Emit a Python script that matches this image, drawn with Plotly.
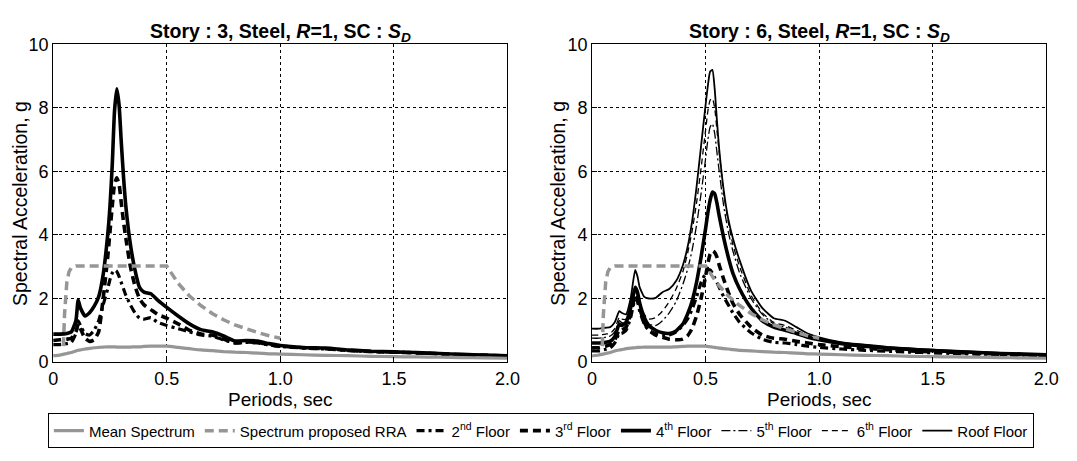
import plotly.graph_objects as go

# ---------------- data ----------------
# Story 3 (left panel)
T_LEFT = [0, 0.03, 0.06, 0.08, 0.1, 0.11, 0.12, 0.14, 0.16, 0.18, 0.2, 0.22, 0.24, 0.25, 0.26,
          0.27, 0.28, 0.29, 0.3, 0.31, 0.32, 0.34, 0.36, 0.38, 0.4, 0.43, 0.46, 0.5, 0.55, 0.6,
          0.65, 0.7, 0.75, 0.8, 0.85, 0.9, 0.95, 1.0, 1.1, 1.2, 1.3, 1.4, 1.5, 1.6, 1.7, 1.8, 1.9, 2.0]
S3_MEAN = [0.2, 0.22, 0.27, 0.3, 0.35, 0.37, 0.38, 0.41, 0.43, 0.45, 0.46, 0.47, 0.48, 0.48, 0.48,
           0.48, 0.47, 0.47, 0.47, 0.47, 0.47, 0.47, 0.48, 0.48, 0.49, 0.5, 0.5, 0.5, 0.46, 0.42,
           0.38, 0.36, 0.33, 0.31, 0.3, 0.28, 0.26, 0.25, 0.23, 0.21, 0.2, 0.18, 0.17, 0.16, 0.15, 0.14, 0.13, 0.12]
S3_2ND = [0.55, 0.55, 0.58, 0.62, 0.9, 1.3, 1.15, 0.9, 0.85, 1.0, 1.3, 1.8, 2.3, 2.6, 2.8,
          2.9, 2.85, 2.7, 2.5, 2.3, 2.1, 1.8, 1.55, 1.38, 1.35, 1.4, 1.25, 1.15, 1.05, 0.95,
          0.85, 0.82, 0.7, 0.6, 0.62, 0.6, 0.54, 0.49, 0.44, 0.41, 0.36, 0.33, 0.31, 0.29, 0.26, 0.23, 0.21, 0.19]
S3_3RD = [0.68, 0.7, 0.72, 0.75, 0.95, 1.2, 1.05, 0.75, 0.65, 0.7, 0.95, 2.0, 3.3, 4.1, 4.9,
          5.6, 5.8, 5.6, 5.0, 4.4, 3.9, 3.0, 2.4, 2.0, 1.8, 1.65, 1.5, 1.38, 1.2, 1.0,
          0.88, 0.85, 0.72, 0.6, 0.63, 0.62, 0.55, 0.5, 0.45, 0.42, 0.37, 0.33, 0.31, 0.29, 0.26, 0.23, 0.21, 0.19]
S3_4TH = [0.88, 0.88, 0.9, 0.95, 1.3, 1.95, 1.7, 1.45, 1.55, 1.75, 2.05, 2.75, 4.0, 4.9, 6.2,
          7.9, 8.6, 8.1, 6.9, 5.8, 4.9, 3.7, 2.9, 2.35, 2.2, 2.15, 1.95, 1.72, 1.45, 1.2,
          1.02, 0.95, 0.82, 0.66, 0.68, 0.66, 0.58, 0.52, 0.46, 0.44, 0.38, 0.34, 0.32, 0.3, 0.27, 0.24, 0.22, 0.2]

# Story 6 (right panel)
T_RIGHT = [0, 0.03, 0.06, 0.08, 0.1, 0.12, 0.13, 0.15, 0.17, 0.19, 0.2, 0.21, 0.23, 0.25, 0.28,
           0.31, 0.34, 0.37, 0.4, 0.42, 0.44, 0.46, 0.48, 0.5, 0.51, 0.52, 0.53, 0.54, 0.55, 0.56,
           0.58, 0.6, 0.62, 0.65, 0.7, 0.75, 0.8, 0.85, 0.9, 0.95, 1.0, 1.1, 1.2, 1.3, 1.4, 1.5,
           1.6, 1.7, 1.8, 1.9, 2.0]
S6_MEAN = [0.19, 0.22, 0.27, 0.3, 0.35, 0.38, 0.39, 0.42, 0.44, 0.45, 0.46, 0.46, 0.47, 0.47, 0.47,
           0.47, 0.47, 0.48, 0.49, 0.5, 0.5, 0.5, 0.5, 0.5, 0.49, 0.48, 0.47, 0.46, 0.45, 0.44,
           0.42, 0.41, 0.39, 0.37, 0.35, 0.33, 0.31, 0.3, 0.28, 0.26, 0.25, 0.23, 0.21, 0.2, 0.18, 0.17,
           0.16, 0.15, 0.14, 0.13, 0.12]
S6_2ND = [0.35, 0.35, 0.4, 0.45, 0.6, 0.9, 0.9, 1.0, 1.4, 2.0, 1.9, 1.6, 1.2, 1.0, 0.9,
          0.85, 0.85, 0.95, 1.15, 1.35, 1.65, 2.05, 2.5, 2.8, 2.9, 2.9, 2.8, 2.65, 2.5, 2.35,
          2.05, 1.8, 1.55, 1.25, 0.92, 0.72, 0.62, 0.6, 0.55, 0.5, 0.46, 0.41, 0.37, 0.34, 0.31, 0.29,
          0.27, 0.25, 0.23, 0.21, 0.2]
S6_3RD = [0.45, 0.45, 0.5, 0.55, 0.7, 1.0, 1.0, 1.1, 1.5, 2.1, 2.0, 1.7, 1.25, 1.0, 0.85,
          0.78, 0.72, 0.7, 0.72, 0.82, 1.05, 1.45, 2.0, 2.7, 3.1, 3.4, 3.5, 3.45, 3.3, 3.05,
          2.6, 2.2, 1.85, 1.5, 1.1, 0.85, 0.75, 0.72, 0.65, 0.6, 0.55, 0.48, 0.43, 0.39, 0.35, 0.32,
          0.3, 0.27, 0.25, 0.23, 0.21]
S6_4TH = [0.6, 0.6, 0.62, 0.65, 0.8, 1.2, 1.15, 1.25, 1.7, 2.35, 2.2, 1.85, 1.4, 1.15, 1.0,
          0.92, 0.9, 0.98, 1.2, 1.5, 1.9, 2.5, 3.3, 4.2, 4.7, 5.1, 5.35, 5.3, 5.0, 4.6,
          3.9, 3.3, 2.8, 2.3, 1.7, 1.3, 1.1, 1.0, 0.9, 0.78, 0.7, 0.58, 0.5, 0.44, 0.4, 0.36,
          0.33, 0.3, 0.27, 0.25, 0.23]
S6_5TH = [0.75, 0.75, 0.78, 0.82, 0.95, 1.3, 1.25, 1.2, 1.55, 2.2, 2.1, 1.8, 1.4, 1.2, 1.15,
          1.3, 1.55, 1.9, 2.45, 2.9, 3.5, 4.3, 5.3, 6.4, 7.0, 7.4, 7.5, 7.2, 6.6, 6.0,
          4.9, 4.1, 3.5, 2.8, 2.0, 1.5, 1.2, 1.1, 0.95, 0.82, 0.72, 0.6, 0.52, 0.46, 0.41, 0.37,
          0.34, 0.31, 0.28, 0.25, 0.23]
S6_6TH = [0.85, 0.85, 0.88, 0.9, 1.05, 1.4, 1.35, 1.35, 1.7, 2.3, 2.2, 1.9, 1.5, 1.35, 1.4,
          1.6, 1.9, 2.3, 2.85, 3.4, 4.1, 5.0, 6.1, 7.3, 7.9, 8.25, 8.3, 8.0, 7.3, 6.6,
          5.3, 4.4, 3.7, 3.0, 2.1, 1.55, 1.25, 1.15, 1.0, 0.85, 0.74, 0.6, 0.53, 0.47, 0.42, 0.38,
          0.34, 0.31, 0.28, 0.26, 0.24]
S6_ROOF = [1.05, 1.05, 1.08, 1.1, 1.25, 1.6, 1.55, 1.5, 2.0, 2.9, 2.7, 2.35, 2.05, 2.0, 2.02,
           2.2, 2.3, 2.55, 3.05, 3.6, 4.4, 5.5, 6.8, 8.1, 8.7, 9.15, 9.2, 8.6, 7.6, 6.7,
           5.4, 4.5, 3.9, 3.2, 2.25, 1.7, 1.38, 1.3, 1.1, 0.9, 0.78, 0.62, 0.55, 0.48, 0.43, 0.39,
           0.35, 0.32, 0.29, 0.26, 0.24]

# Proposed RRA spectrum (both panels)
T_RRA = [0.045, 0.05, 0.06, 0.07, 0.08, 0.09, 0.1, 0.5, 0.55, 0.6, 0.65, 0.7, 0.75, 0.8, 0.85, 0.9, 0.95, 1.0]
SA_RRA = [0.5, 1.5, 2.5, 2.85, 2.97, 3.0, 3.02, 3.02, 2.48, 2.08, 1.78, 1.53, 1.33, 1.17, 1.04, 0.93, 0.83, 0.75]

NAMES = ["Mean Spectrum", "Spectrum proposed RRA", "2<sup>nd</sup> Floor", "3<sup>rd</sup> Floor",
         "4<sup>th</sup> Floor", "5<sup>th</sup> Floor", "6<sup>th</sup> Floor", "Roof Floor"]
TITLES = ["Story : 3, Steel, <i>R</i>=1, SC : <i>S<sub>D</sub></i>",
          "Story : 6, Steel, <i>R</i>=1, SC : <i>S<sub>D</sub></i>"]
X_LABEL = "Periods, sec"
Y_LABEL = "Spectral Acceleration, g"
X_TICKS = [0, 0.5, 1.0, 1.5, 2.0]
X_TICK_TEXT = ["0", "0.5", "1.0", "1.5", "2.0"]
Y_TICKS = [0, 2, 4, 6, 8, 10]

# ---------------- styles ----------------
GRAY = "rgb(150,150,150)"
STYLE = {
    0: dict(color=GRAY, width=3.2, dash="solid"),
    1: dict(color=GRAY, width=3.5, dash="9px,5px"),
    2: dict(color="black", width=3.2, dash="8px,4px,3px,4px"),
    3: dict(color="black", width=3.6, dash="8px,5px"),
    4: dict(color="black", width=3.6, dash="solid"),
    5: dict(color="black", width=1.3, dash="9px,3px,2px,3px"),
    6: dict(color="black", width=1.3, dash="6px,4px"),
    7: dict(color="black", width=1.8, dash="solid"),
}

fig = go.Figure()

def add(x, y, idx, axis, show, smooth=True):
    fig.add_trace(go.Scatter(
        x=x, y=y, mode="lines", name=NAMES[idx], line=STYLE[idx],
        line_shape="spline" if smooth else "linear",
        xaxis="x" if axis == 1 else "x2", yaxis="y" if axis == 1 else "y2",
        showlegend=show, legendrank=idx + 1, hoverinfo="skip"))
    if smooth:
        fig.data[-1].line.smoothing = 0.5

# left panel (floors first, gray spectra on top)
add(T_LEFT, S3_2ND, 2, 1, False)
add(T_LEFT, S3_3RD, 3, 1, False)
add(T_LEFT, S3_4TH, 4, 1, False)
add(T_LEFT, S3_MEAN, 0, 1, False)
add(T_RRA, SA_RRA, 1, 1, False, smooth=False)

# right panel
add(T_RIGHT, S6_2ND, 2, 2, True)
add(T_RIGHT, S6_3RD, 3, 2, True)
add(T_RIGHT, S6_4TH, 4, 2, True)
add(T_RIGHT, S6_5TH, 5, 2, True)
add(T_RIGHT, S6_6TH, 6, 2, True)
add(T_RIGHT, S6_ROOF, 7, 2, True)
add(T_RIGHT, S6_MEAN, 0, 2, True)
add(T_RRA, SA_RRA, 1, 2, True, smooth=False)

W, H = 1077, 461
FONT = "Arial, Liberation Sans, sans-serif"
x1 = [49 / W, 511 / W]
x2 = [597 / W, 1059 / W]
yd = [1 - 368 / H, 1 - 36 / H]

axis_common = dict(showline=True, linecolor="black", linewidth=1, mirror=True,
                   showgrid=True, gridcolor="black", griddash="dot", gridwidth=1,
                   zeroline=False, ticks="inside", ticklen=5, tickcolor="black",
                   tickfont=dict(size=18, color="black", family=FONT))

xa = dict(axis_common, range=[0, 2.0], tickvals=X_TICKS, ticktext=X_TICK_TEXT)
ya = dict(axis_common, range=[0, 10], tickvals=Y_TICKS)

def ann(text, xpx, ypx, size, angle=0):
    return dict(text=text, x=xpx / W, y=1 - ypx / H, xref="paper", yref="paper",
                xanchor="center", yanchor="middle", showarrow=False, textangle=angle,
                font=dict(size=size, family=FONT, color="black"))

annotations = []
for (d0, d1), title in zip([x1, x2], TITLES):
    cx = (d0 + d1) / 2 * W
    annotations.append(ann(f"<b>{title}</b>", cx, 24, 19.5))
    annotations.append(ann(X_LABEL, cx, 407, 19))
    annotations.append(ann(Y_LABEL, d0 * W - 34, 202, 19.5, angle=-90))

fig.update_layout(
    width=W, height=H, margin=dict(l=0, r=0, t=0, b=0),
    paper_bgcolor="white", plot_bgcolor="white",
    font=dict(family=FONT, color="black"),
    xaxis=dict(xa, domain=x1, anchor="y"),
    yaxis=dict(ya, domain=yd, anchor="x"),
    xaxis2=dict(xa, domain=x2, anchor="y2"),
    yaxis2=dict(ya, domain=yd, anchor="x2"),
    legend=dict(orientation="h", x=545 / W, xanchor="center", y=1 - 440 / H, yanchor="middle",
                bordercolor="black", borderwidth=1, bgcolor="white",
                font=dict(size=15, color="black", family=FONT), itemwidth=30,
                tracegroupgap=0),
    annotations=annotations,
)

fig.write_html("out.html")
